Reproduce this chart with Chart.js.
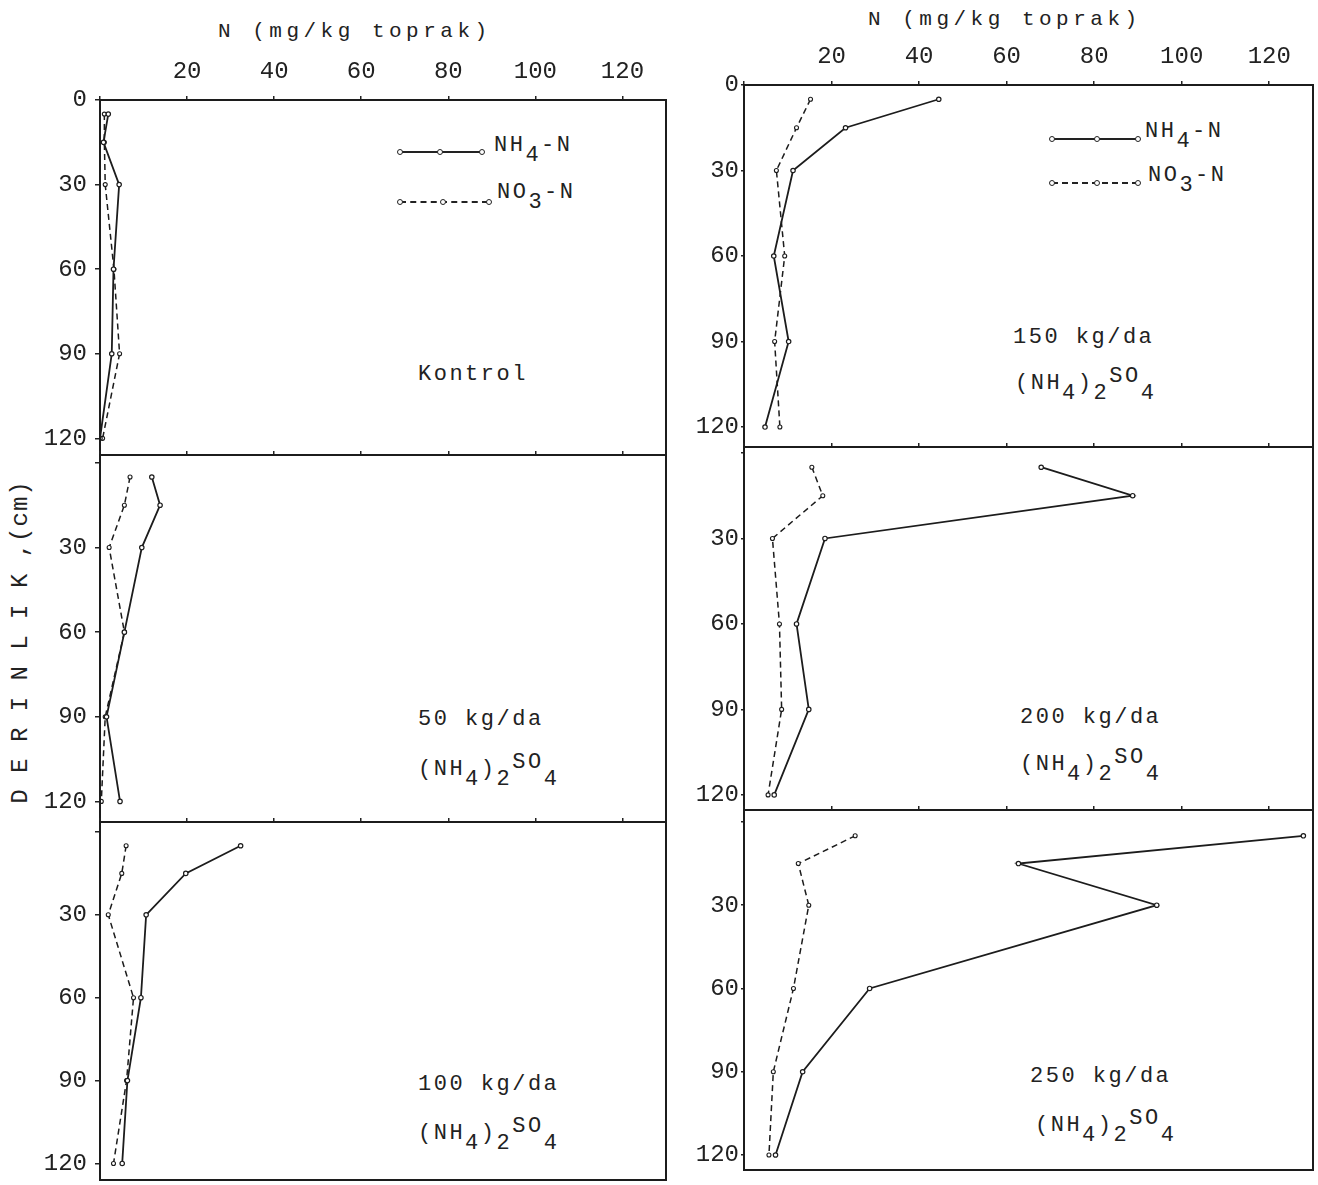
<!DOCTYPE html>
<html>
<head>
<meta charset="utf-8">
<script src="https://cdn.jsdelivr.net/npm/chart.js@4.4.0/dist/chart.umd.min.js"></script>
<style>
  body { margin: 0; background: #fff; width: 1318px; height: 1185px; position: relative; overflow: hidden;
         font-family: "Liberation Mono", monospace; color: #222; }
  .t { position: absolute; font-size: 22px; line-height: 24px; white-space: nowrap; letter-spacing: 2.5px; }
  .title { font-size: 21px; letter-spacing: 4.5px; }
  .lo { position: relative; top: 0.45em; }
  .hi { position: relative; top: -0.3em; }
  .smp { position: absolute; height: 0; border-top: 2px solid #222; }
  .smp.d { border-top: 2px dashed #222; }
  .dot { position: absolute; width: 4px; height: 4px; border: 1.2px solid #222; border-radius: 50%; background: #fff; }
  #ylab { position: absolute; left: 20px; top: 642px; transform: translate(-50%, -50%) rotate(-90deg);
          font-size: 24px; letter-spacing: 1px; white-space: nowrap; }
</style>
</head>
<body>

<div class="t title" style="left:218px;top:20px">N (mg/kg toprak)</div>
<div class="t title" style="left:868px;top:8px">N (mg/kg toprak)</div>
<div id="ylab">D E R I N L I K ,(cm)</div>

<!-- legends -->
<div class="smp" style="left:400px;top:151px;width:82px"></div>
<div class="dot" style="left:397px;top:149px"></div>
<div class="dot" style="left:437px;top:149px"></div>
<div class="dot" style="left:479px;top:149px"></div>
<div class="t" style="left:494px;top:134px">NH<span class="lo">4</span>-N</div>
<div class="smp d" style="left:400px;top:201px;width:88px"></div>
<div class="dot" style="left:397px;top:199px"></div>
<div class="dot" style="left:440px;top:199px"></div>
<div class="dot" style="left:486px;top:199px"></div>
<div class="t" style="left:497px;top:181px">NO<span class="lo">3</span>-N</div>

<div class="smp" style="left:1052px;top:138px;width:86px"></div>
<div class="dot" style="left:1049px;top:136px"></div>
<div class="dot" style="left:1094px;top:136px"></div>
<div class="dot" style="left:1135px;top:136px"></div>
<div class="t" style="left:1145px;top:120px">NH<span class="lo">4</span>-N</div>
<div class="smp d" style="left:1052px;top:182px;width:86px"></div>
<div class="dot" style="left:1049px;top:180px"></div>
<div class="dot" style="left:1094px;top:180px"></div>
<div class="dot" style="left:1135px;top:180px"></div>
<div class="t" style="left:1148px;top:164px">NO<span class="lo">3</span>-N</div>

<!-- panel captions -->
<div class="t" style="left:418px;top:363px">Kontrol</div>
<div class="t" style="left:418px;top:708px">50 kg/da</div>
<div class="t" style="left:418px;top:758px">(NH<span class="lo">4</span>)<span class="lo">2</span><span class="hi">SO</span><span class="lo">4</span></div>
<div class="t" style="left:418px;top:1073px">100 kg/da</div>
<div class="t" style="left:418px;top:1122px">(NH<span class="lo">4</span>)<span class="lo">2</span><span class="hi">SO</span><span class="lo">4</span></div>
<div class="t" style="left:1013px;top:326px">150 kg/da</div>
<div class="t" style="left:1015px;top:372px">(NH<span class="lo">4</span>)<span class="lo">2</span><span class="hi">SO</span><span class="lo">4</span></div>
<div class="t" style="left:1020px;top:706px">200 kg/da</div>
<div class="t" style="left:1020px;top:753px">(NH<span class="lo">4</span>)<span class="lo">2</span><span class="hi">SO</span><span class="lo">4</span></div>
<div class="t" style="left:1030px;top:1065px">250 kg/da</div>
<div class="t" style="left:1035px;top:1114px">(NH<span class="lo">4</span>)<span class="lo">2</span><span class="hi">SO</span><span class="lo">4</span></div>

<script>
// sampling depths (cm)
const depths = [5, 15, 30, 60, 90, 120];
const xTicks = [0, 20, 40, 60, 80, 100, 120];
const yTicks = [0, 30, 60, 90, 120];

// N (mg/kg toprak), one value per depth
const kontrolNH4 = [1.9, 0.8, 4.4, 3.1, 2.7, 0.0];
const kontrolNO3 = [1.0, 1.0, 1.2, 3.2, 4.5, 0.6];
const doz50NH4 = [11.9, 13.8, 9.6, 5.6, 1.5, 4.6];
const doz50NO3 = [6.9, 5.6, 2.1, 5.6, 1.2, 0.3];
const doz100NH4 = [32.3, 19.7, 10.6, 9.4, 6.3, 5.1];
const doz100NO3 = [6.0, 5.0, 1.9, 7.7, 6.1, 3.1];
const doz150NH4 = [44.5, 23.2, 11.2, 6.8, 10.2, 4.8];
const doz150NO3 = [15.2, 12.0, 7.4, 9.3, 7.0, 8.2];
const doz200NH4 = [67.9, 88.8, 18.5, 12.0, 14.8, 6.9];
const doz200NO3 = [15.5, 18.0, 6.5, 8.1, 8.6, 5.5];
const doz250NH4 = [127.8, 62.7, 94.3, 28.7, 13.4, 7.2];
const doz250NO3 = [25.4, 12.4, 14.8, 11.3, 6.7, 5.7];

Chart.defaults.font.family = '"Liberation Mono", monospace';
Chart.defaults.color = '#222';

const frame = {
  id: 'frame',
  afterDraw(chart) {
    const { ctx, chartArea: a } = chart;
    ctx.save();
    ctx.strokeStyle = '#1c1c1c';
    ctx.lineWidth = 2;
    ctx.strokeRect(a.left, a.top, a.right - a.left, a.bottom - a.top);
    ctx.restore();
  }
};

const panels = [
  { nh4: kontrolNH4, no3: kontrolNO3, x: 100, y: 100, w: 566, h: 355, yMin: 0, yMax: 125.9, top: true, right: false },
  { nh4: doz50NH4, no3: doz50NO3, x: 100, y: 455, w: 566, h: 367, yMin: -2.8, yMax: 127.3, top: false, right: false },
  { nh4: doz100NH4, no3: doz100NO3, x: 100, y: 822, w: 566, h: 358, yMin: -3.6, yMax: 126, top: false, right: false },
  { nh4: doz150NH4, no3: doz150NO3, x: 744, y: 85, w: 569, h: 362, yMin: 0, yMax: 127, top: true, right: true },
  { nh4: doz200NH4, no3: doz200NO3, x: 744, y: 447, w: 569, h: 363, yMin: -2.1, yMax: 125.3, top: false, right: true },
  { nh4: doz250NH4, no3: doz250NO3, x: 744, y: 810, w: 569, h: 360, yMin: -4.3, yMax: 125.4, top: false, right: true }
];

function points(vals) {
  return vals.map((v, i) => ({ x: v, y: depths[i] }));
}

panels.forEach(p => {
  const T = p.top ? 70 : 10, L = 90, R = 6, B = 6;
  const cv = document.createElement('canvas');
  cv.width = p.w + L + R;
  cv.height = p.h + T + B;
  cv.style.cssText = `position:absolute;left:${p.x - L}px;top:${p.y - T}px`;
  document.body.appendChild(cv);

  new Chart(cv.getContext('2d'), {
    type: 'line',
    data: {
      datasets: [
        {
          label: 'NH4-N',
          data: points(p.nh4),
          borderColor: '#1c1c1c',
          borderWidth: 1.8,
          pointRadius: 2.2,
          pointBorderWidth: 1.2,
          pointBackgroundColor: '#fff',
          pointBorderColor: '#1c1c1c',
          tension: 0
        },
        {
          label: 'NO3-N',
          data: points(p.no3),
          borderColor: '#1c1c1c',
          borderWidth: 1.5,
          borderDash: [6, 4],
          pointRadius: 2,
          pointBorderWidth: 1.1,
          pointBackgroundColor: '#fff',
          pointBorderColor: '#1c1c1c',
          tension: 0
        }
      ]
    },
    options: {
      responsive: false,
      animation: false,
      layout: { padding: { top: 0, left: 0, right: R, bottom: B } },
      plugins: { legend: { display: false }, tooltip: { enabled: false } },
      scales: {
        x: {
          type: 'linear',
          position: 'top',
          min: 0,
          max: 130,
          afterBuildTicks: s => { s.ticks = xTicks.map(v => ({ value: v })); },
          afterFit: s => { s.height = T; s.paddingLeft = 0; s.paddingRight = 0; },
          border: { display: false },
          grid: { drawOnChartArea: false, drawTicks: true, tickLength: 4, color: '#222', lineWidth: 1.5 },
          ticks: {
            padding: 10,
            maxRotation: 0,
            font: { size: 24 },
            callback: v => (p.top && v !== 0 ? v : '')
          }
        },
        y: {
          type: 'linear',
          reverse: true,
          min: p.yMin,
          max: p.yMax,
          afterBuildTicks: s => { s.ticks = yTicks.map(v => ({ value: v })); },
          afterFit: s => { s.width = L; s.paddingTop = 0; s.paddingBottom = 0; },
          border: { display: false },
          grid: { drawOnChartArea: false, drawTicks: true, tickLength: p.right ? 3 : 5, color: '#222', lineWidth: 1.5 },
          ticks: {
            padding: p.right ? 2 : 8,
            font: { size: 24 },
            callback: v => (!p.top && v === 0 ? '' : v)
          }
        }
      }
    },
    plugins: [frame]
  });
});
</script>
</body>
</html>
